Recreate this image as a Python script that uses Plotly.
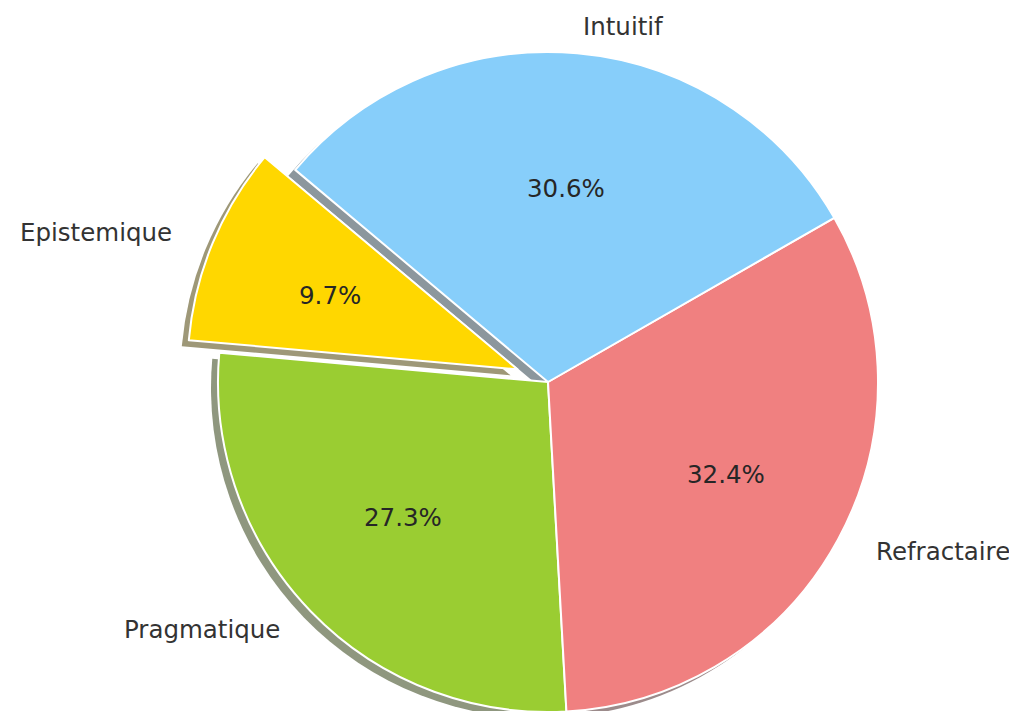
import math
import plotly.graph_objects as go

# ---- data ----
labels = ["Epistemique", "Pragmatique", "Refractaire", "Intuitif"]
shares = [9.7, 27.3, 32.4, 30.6]
colors = ["#FFD700", "#9ACD32", "#F08080", "#87CEFA"]
explode = [0.1, 0, 0, 0]
start_angle = 140  # degrees, counter-clockwise from 3 o'clock

# ---- layout constants (pixels) ----
W, H = 1017, 711
PAGE_OFF = 8               # default body margin of the html page
CX, CY = 548 - PAGE_OFF, 382 - PAGE_OFF   # pie centre in figure px (from top-left)
R = 330                    # pie radius
RX_T, RY_T = 337, 324      # radius used for text placement
SH_DX, SH_DY = -7, 6       # shadow offset (screen px, down positive)
FONT = "DejaVu Sans"
FS = 24.5

total = sum(shares)
angles = [s / total * 360 for s in shares]
mids = []
acc = start_angle
for a in angles:
    mids.append(acc + a / 2)
    acc += a


def shadow_color(hexc):
    r, g, b = (int(hexc[i:i + 2], 16) / 255 for i in (1, 3, 5))
    f = lambda v: int(round((0.47 + 0.15 * v) * 255))
    return f"rgb({f(r)},{f(g)},{f(b)})"


def domain(cx, cy, r):
    return dict(x=[max(0, (cx - r) / W), min(1, (cx + r) / W)],
                y=[max(0, (H - cy - r) / H), min(1, (H - cy + r) / H)])


TRANSP = "rgba(0,0,0,0)"
fig = go.Figure()
# plotly places the first slice clockwise-adjacent to the rotation point when
# direction is counterclockwise, so point at the end of the first slice
rotation = -(start_angle + angles[0] - 90)


def add_pie(cx, cy, fill, line_col, line_w):
    fig.add_trace(go.Pie(
        labels=labels, values=shares, sort=False, direction="counterclockwise",
        rotation=rotation, domain=domain(cx, cy, R), textinfo="none",
        hoverinfo="skip", showlegend=False,
        marker=dict(colors=fill, line=dict(color=line_col, width=line_w)),
    ))


pulled = [e > 0 for e in explode]
offs = []
for i, m in enumerate(mids):
    t = math.radians(m)
    offs.append((explode[i] * R * math.cos(t), explode[i] * R * math.sin(t)))

# shadows
add_pie(CX + SH_DX, CY + SH_DY,
        [TRANSP if p else shadow_color(c) for p, c in zip(pulled, colors)],
        TRANSP, 0)
for i, p in enumerate(pulled):
    if p:
        add_pie(CX + offs[i][0] + SH_DX, CY - offs[i][1] + SH_DY,
                [shadow_color(c) if j == i else TRANSP for j, c in enumerate(colors)],
                TRANSP, 0)
# wedges
add_pie(CX, CY,
        [TRANSP if p else c for p, c in zip(pulled, colors)],
        [TRANSP if p else "white" for p in pulled], 2)
for i, p in enumerate(pulled):
    if p:
        add_pie(CX + offs[i][0], CY - offs[i][1],
                [c if j == i else TRANSP for j, c in enumerate(colors)],
                ["white" if j == i else TRANSP for j in range(len(colors))], 2)

# labels and percentages
for i, (lab, s, m) in enumerate(zip(labels, shares, mids)):
    t = math.radians(m)
    c, sn = math.cos(t), math.sin(t)
    ex = explode[i]
    lx = CX + ex * RX_T * c + 1.1 * RX_T * c
    ly = CY - (ex * RY_T * sn + 1.1 * RY_T * sn)
    fig.add_annotation(x=lx / W, y=1 - ly / H, xref="paper", yref="paper",
                       text=lab, showarrow=False,
                       xanchor="left" if c > 0 else "right", yanchor="middle",
                       font=dict(family=FONT, size=FS, color="#333333"))
    px = CX + ex * RX_T * c + 0.6 * RX_T * c
    py = CY - (ex * RY_T * sn + 0.6 * RY_T * sn)
    fig.add_annotation(x=px / W, y=1 - py / H, xref="paper", yref="paper",
                       text=f"{s:.1f}%", showarrow=False,
                       xanchor="center", yanchor="middle",
                       font=dict(family=FONT, size=FS, color="#262626"))

fig.update_layout(width=W, height=H, margin=dict(l=0, r=0, t=0, b=0),
                  paper_bgcolor="white", plot_bgcolor="white")
fig.write_html("out.html")
